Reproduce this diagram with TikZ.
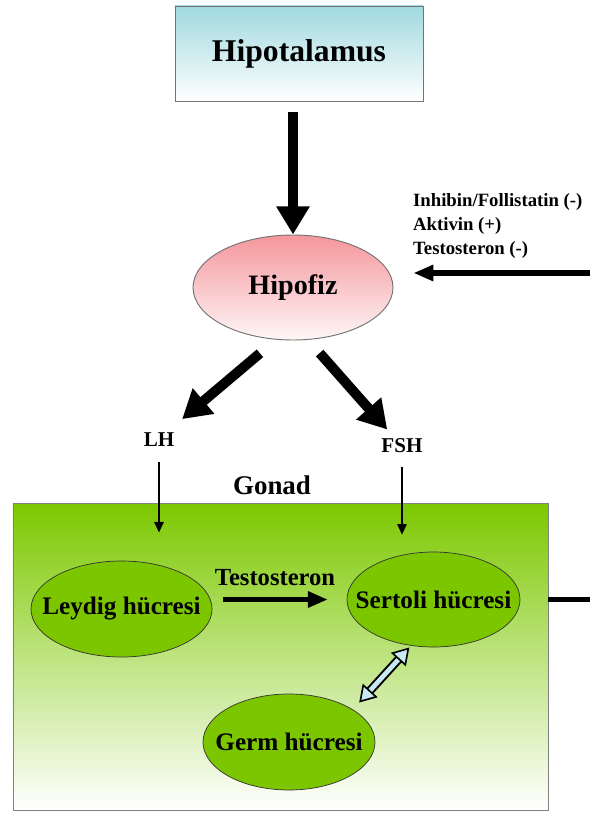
\documentclass[tikz,border=0pt]{standalone}
\usepackage{fontspec}
\setmainfont{Liberation Serif}
\usetikzlibrary{shapes.geometric,arrows.meta}

\definecolor{hipocyan}{RGB}{160,217,222}
\definecolor{hipopink}{RGB}{244,150,155}
\definecolor{gonadgreen}{RGB}{124,200,0}
\definecolor{cellgreen}{RGB}{124,198,0}
\definecolor{okblue}{RGB}{200,232,242}

\tikzset{
  cell/.style={ellipse, draw=black!80, line width=0.6pt, fill=cellgreen, inner sep=0pt},
  bigarrow/.style={line width=8.5pt, -{Triangle[width=27pt,length=24pt]}},
  midarrow/.style={line width=4.5pt, -{Triangle[width=13pt,length=17pt]}},
  thinarrow/.style={line width=1.2pt, -{Triangle[width=8pt,length=9pt]}},
  dblarrow/.style={line width=1.7pt, double=okblue, double distance=4pt,
    {Triangle[fill=okblue,width=17pt,length=14pt,line width=1.4pt]}-{Triangle[fill=okblue,width=17pt,length=14pt,line width=1.4pt]}},
}

\begin{document}
\begin{tikzpicture}[x=0.03cm, y=-0.03cm,
  every label/.style={font=\fontsize{21.5pt}{24pt}\selectfont\bfseries}]
\useasboundingbox (0,0) rectangle (590,813);
% Hipotalamus ve hipofiz
\node[draw=black!55, line width=0.8pt, top color=hipocyan, bottom color=white,
  minimum width=7.44cm, minimum height=2.85cm,
  font=\fontsize{27pt}{30pt}\selectfont\bfseries] (hipotalamus) at (299,53.5) {Hipotalamus};
\node[ellipse, draw=black!55, line width=0.8pt, top color=hipopink, bottom color=hipopink!8,
  minimum width=6cm, minimum height=3.15cm,
  font=\fontsize{24pt}{28pt}\selectfont\bfseries] (hipofiz) at (293,287.5) {Hipofiz};
\draw[bigarrow, shorten <=9pt] (hipotalamus.south -| hipofiz.north) -- (hipofiz.north);
% geri bildirim
\node[anchor=west, align=left, font=\fontsize{16pt}{20.5pt}\selectfont\bfseries] (inhibin) at (409,226)
  {Inhibin/Follistatin (-)\\Aktivin (+)\\Testosteron (-)};
\coordinate (fbin) at (590,273);
\draw[midarrow, shorten >=17pt] (fbin) -- (fbin -| hipofiz.east);
% LH, FSH
\node[font=\fontsize{18pt}{20pt}\selectfont\bfseries] (lh) at (159,440) {LH};
\node[font=\fontsize{18pt}{20pt}\selectfont\bfseries] (fsh) at (402,446) {FSH};
\draw[bigarrow, shorten <=18pt, shorten >=13pt] (hipofiz.252) -- (lh.44);
\draw[bigarrow, shorten <=15pt, shorten >=6pt] (hipofiz.286) -- (fsh.132);
% Gonad
\node[font=\fontsize{23pt}{26pt}\selectfont\bfseries] (gonadlbl) at (272,485) {Gonad};
\node[draw=black!50, line width=0.8pt, top color=gonadgreen, middle color=gonadgreen!75!white,
  bottom color=white, minimum width=16.05cm, minimum height=9.21cm, inner sep=0pt] (gonad) at (280.5,656.5) {};
\node[cell, minimum width=5.43cm, minimum height=2.88cm, label=center:Leydig hücresi] (leydig) at (121.5,609) {};
\node[cell, minimum width=5.19cm, minimum height=2.85cm, label=center:Sertoli hücresi] (sertoli) at (433.5,599.5) {};
\node[cell, minimum width=5.16cm, minimum height=2.88cm, label=center:Germ hücresi] (germ) at (289,742) {};
\draw[thinarrow, shorten <=9pt, shorten >=24pt] (lh.south) -- (lh.south |- leydig.north);
\draw[thinarrow, shorten <=8pt, shorten >=14.5pt] (fsh.south) -- (fsh.south |- sertoli.north);
\node[font=\fontsize{21pt}{24pt}\selectfont\bfseries] (testo) at (275,578) {Testosteron};
\draw[midarrow, shorten <=9pt, shorten >=16pt] (leydig.east |- sertoli.west) -- (sertoli.west);
\draw[dblarrow, shorten <=8pt, shorten >=2pt] (germ.27) -- (sertoli.244);
\coordinate (fbout) at (590,599.5);
\draw[line width=3.5pt] (sertoli -| gonad.east) -- (fbout);
\end{tikzpicture}
\end{document}
